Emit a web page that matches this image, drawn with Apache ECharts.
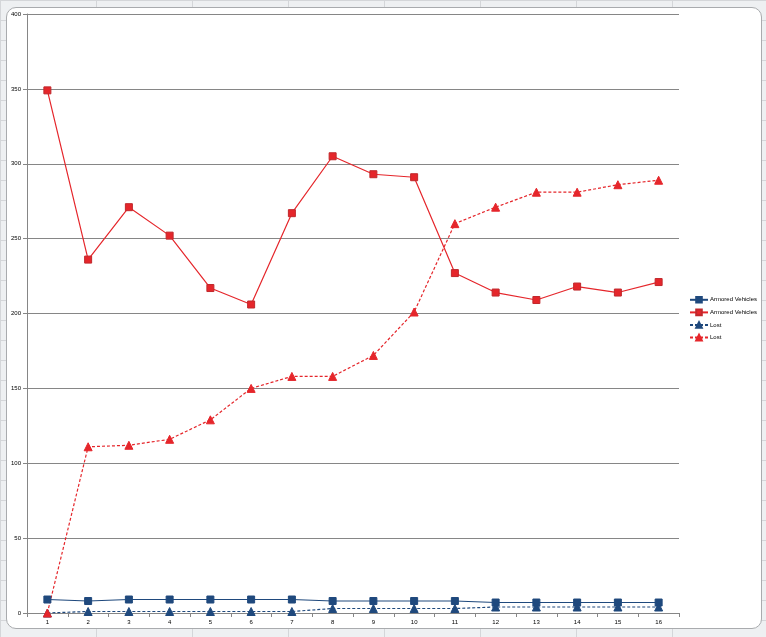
<!DOCTYPE html>
<html>
<head>
<meta charset="utf-8">
<script src="https://cdn.jsdelivr.net/npm/echarts@6/dist/echarts.min.js"></script>
<style>
html,body{margin:0;padding:0;width:766px;height:637px;overflow:hidden;}
body{background-color:#eef0f2;
background-image:linear-gradient(to right,#d4d6d9 1px,transparent 1px),linear-gradient(to bottom,#d4d6d9 1px,transparent 1px);
background-size:96px 20px,96px 20px;}
#frame{position:absolute;left:6px;top:7px;width:754px;height:620px;background:#fff;border:1px solid #a9abae;border-radius:10px;}
#chart{position:absolute;left:0;top:0;width:766px;height:637px;}
</style>
</head>
<body>
<div id="frame"></div>
<div id="chart"></div>
<script>
var categories = ['1','2','3','4','5','6','7','8','9','10','11','12','13','14','15','16'];
var armoredBlue = [9,8,9,9,9,9,9,8,8,8,8,7,7,7,7,7];
var armoredRed = [349,236,271,252,217,206,267,305,293,291,227,214,209,218,214,221];
var lostBlue = [0,1,1,1,1,1,1,3,3,3,3,4,4,4,4,4];
var lostRed = [0,111,112,116,129,150,158,158,172,201,260,271,281,281,286,289];
var seriesNames = ['Armored Vehicles','Armored Vehicles ','Lost','Lost '];

var blue = '#1f497d', red = '#e5262b', redDark = '#c0282c';
var chart = echarts.init(document.getElementById('chart'), null, {renderer:'canvas'});
function mk(name, data, color, border, symbol, size, dashed){
  return {name:name, type:'line', data:data, symbol:symbol, symbolSize:size, showSymbol:true,
    lineStyle:{color:color, width:1.2, type: dashed ? [3,2] : 'solid'},
    itemStyle:{color:color, borderColor:border, borderWidth:1},
    animation:false, z: 2};
}
chart.setOption({
  animation:false,
  backgroundColor:'transparent',
  grid:{left:27, right:87, top:14, bottom:24},
  legend:{
    orient:'vertical', left:689, top:296, width:76, itemGap:5, itemWidth:18, itemHeight:7,
    padding:0,
    textStyle:{fontSize:6, color:'#000', fontFamily:'Liberation Sans', padding:[0,0,0,-3]},
    data:seriesNames
  },
  xAxis:{type:'category', data:categories, boundaryGap:true,
    axisLine:{lineStyle:{color:'#868686', width:1}},
    axisTick:{show:true, length:4, lineStyle:{color:'#868686'}, alignWithLabel:false},
    axisLabel:{fontSize:6, color:'#000', margin:6, fontFamily:'Liberation Sans'},
    splitLine:{show:false}},
  yAxis:{type:'value', min:0, max:400, interval:50,
    axisLine:{show:true, lineStyle:{color:'#868686', width:1}},
    axisTick:{show:true, length:4, lineStyle:{color:'#868686'}},
    axisLabel:{fontSize:6, color:'#000', margin:6, fontFamily:'Liberation Sans'},
    splitLine:{show:true, lineStyle:{color:'#868686', width:1}}},
  series:[
    mk(seriesNames[0], armoredBlue, blue, blue, 'rect', 7, false),
    mk(seriesNames[1], armoredRed, red, redDark, 'rect', 7, false),
    mk(seriesNames[2], lostBlue, blue, blue, 'triangle', 8, true),
    mk(seriesNames[3], lostRed, red, red, 'triangle', 8, true)
  ]
});
</script>
</body>
</html>
